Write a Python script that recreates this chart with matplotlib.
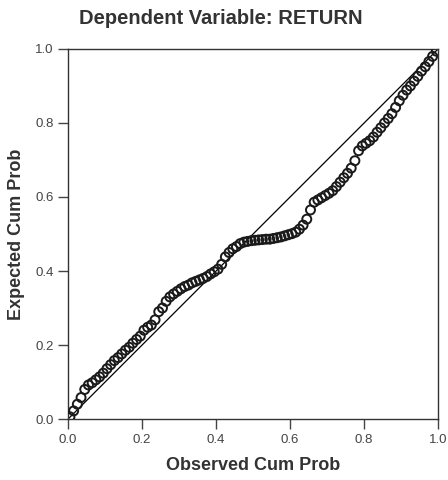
import matplotlib.pyplot as plt

# P-P plot of regression standardized residual
observed = [0.005, 0.015, 0.025, 0.035, 0.045, 0.055, 0.065, 0.075, 0.085, 0.095,
            0.105, 0.115, 0.125, 0.135, 0.145, 0.155, 0.165, 0.175, 0.185, 0.195,
            0.205, 0.215, 0.225, 0.235, 0.245, 0.255, 0.265, 0.275, 0.285, 0.295,
            0.305, 0.315, 0.325, 0.335, 0.345, 0.355, 0.365, 0.375, 0.385, 0.395,
            0.405, 0.415, 0.425, 0.435, 0.445, 0.455, 0.465, 0.475, 0.485, 0.495,
            0.505, 0.515, 0.525, 0.535, 0.545, 0.555, 0.565, 0.575, 0.585, 0.595,
            0.605, 0.615, 0.625, 0.635, 0.645, 0.655, 0.665, 0.675, 0.685, 0.695,
            0.705, 0.715, 0.725, 0.735, 0.745, 0.755, 0.765, 0.775, 0.785, 0.795,
            0.805, 0.815, 0.825, 0.835, 0.845, 0.855, 0.865, 0.875, 0.885, 0.895,
            0.905, 0.915, 0.925, 0.935, 0.945, 0.955, 0.965, 0.975, 0.985, 0.995]
expected = [0.006, 0.022, 0.040, 0.058, 0.080, 0.092, 0.098, 0.106, 0.114, 0.124,
            0.136, 0.147, 0.158, 0.166, 0.176, 0.186, 0.194, 0.205, 0.215, 0.224,
            0.240, 0.248, 0.254, 0.268, 0.290, 0.300, 0.318, 0.330, 0.338, 0.345,
            0.352, 0.358, 0.362, 0.368, 0.372, 0.376, 0.380, 0.385, 0.392, 0.398,
            0.405, 0.418, 0.438, 0.450, 0.460, 0.466, 0.474, 0.478, 0.480, 0.482,
            0.483, 0.484, 0.485, 0.486, 0.486, 0.488, 0.490, 0.492, 0.495, 0.498,
            0.501, 0.505, 0.513, 0.524, 0.540, 0.565, 0.586, 0.592, 0.598, 0.604,
            0.610, 0.617, 0.628, 0.640, 0.652, 0.664, 0.678, 0.698, 0.725, 0.738,
            0.745, 0.752, 0.762, 0.775, 0.787, 0.800, 0.812, 0.825, 0.842, 0.860,
            0.875, 0.889, 0.900, 0.913, 0.926, 0.940, 0.952, 0.966, 0.980, 0.994]
ticks = [0.0, 0.2, 0.4, 0.6, 0.8, 1.0]
tick_labels = ['0.0', '0.2', '0.4', '0.6', '0.8', '1.0']

plt.rcParams['font.family'] = ['Liberation Sans', 'DejaVu Sans']

fig = plt.figure(figsize=(4.48, 4.8), dpi=100)
ax = fig.add_axes([0.152, 0.127, 0.826, 0.771])

ax.plot([0, 1], [0, 1], color='black', linewidth=0.9)
ax.scatter(observed, expected, s=42, facecolors='none', edgecolors='#1a1a1a',
           linewidths=1.4, zorder=3)

ax.set_xlim(0, 1)
ax.set_ylim(0, 1)
ax.set_xticks(ticks)
ax.set_yticks(ticks)
ax.set_xticklabels(tick_labels)
ax.set_yticklabels(tick_labels)
ax.tick_params(direction='out', length=7, width=1, labelsize=9.5, colors='#444444')
for s in ax.spines.values():
    s.set_color('#333333')
    s.set_linewidth(1)

ax.set_xlabel('Observed Cum Prob', fontsize=13, fontweight='bold', color='#333333', labelpad=8)
ax.set_ylabel('Expected Cum Prob', fontsize=13, fontweight='bold', color='#333333', labelpad=7)
fig.text(0.493, 0.962, 'Dependent Variable: RETURN', ha='center', va='center',
         fontsize=14.5, fontweight='bold', color='#333333')

fig.savefig('out.png', dpi=100)
